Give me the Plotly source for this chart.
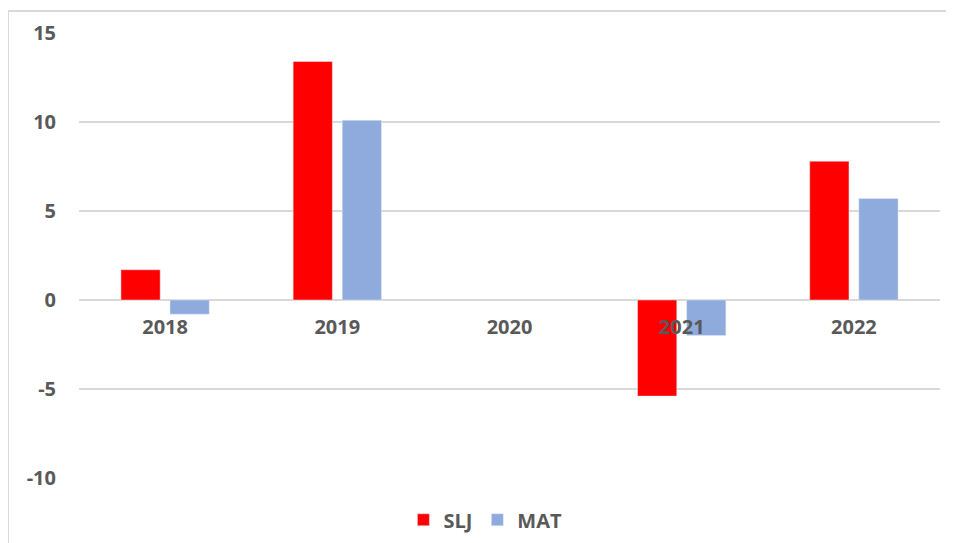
import plotly.graph_objects as go

years = ["2018", "2019", "2020", "2021", "2022"]
slj = [1.7, 13.4, None, -5.4, 7.8]
mat = [-0.8, 10.1, None, -2.0, 5.7]
y_ticks = [-10, -5, 0, 5, 10, 15]
y_tick_text = ["-10", "-5", "0", "5", "10", "15"]

GRAY = "#595959"
FONT = "Open Sans"

fig = go.Figure()
fig.add_trace(go.Bar(name="SLJ", x=years, y=slj, marker=dict(color="#ff0000")))
fig.add_trace(go.Bar(name="MAT", x=years, y=mat, marker=dict(color="#8faadc")))

fig.update_layout(
    width=954, height=543,
    margin=dict(l=71, r=22, t=25, b=73),
    paper_bgcolor="white", plot_bgcolor="white",
    barmode="group", bargap=0.43, bargroupgap=0.2,
    font=dict(family=FONT, color=GRAY),
    legend=dict(orientation="h", x=0.472, xanchor="center", y=-0.05, yanchor="top",
                font=dict(family=FONT, size=20, color=GRAY, weight="bold"),
                itemwidth=30, traceorder="normal"),
    showlegend=True,
)
fig.update_xaxes(
    type="category", anchor="free", position=0.4,
    showgrid=False, showline=False, ticks="",
    tickfont=dict(family=FONT, size=20, color=GRAY, weight="bold"),
    ticklabelstandoff=13,
)
fig.update_yaxes(
    range=[-10, 15], tickvals=y_ticks, ticktext=y_tick_text,
    showgrid=True, gridcolor="#d9d9d9", gridwidth=1.5,
    zeroline=True, zerolinecolor="#d9d9d9", zerolinewidth=1.5,
    showline=False, ticks="",
    tickfont=dict(family=FONT, size=20, color=GRAY, weight="bold"),
    ticklabelstandoff=22,
)
# chart frame
fig.add_shape(type="rect", xref="paper", yref="paper",
              x0=-0.0825, x1=1.05, y0=-0.2, y1=1.0494,
              line=dict(color="#d9d9d9", width=2), fillcolor="rgba(0,0,0,0)", layer="below")

fig.write_html("out.html")
